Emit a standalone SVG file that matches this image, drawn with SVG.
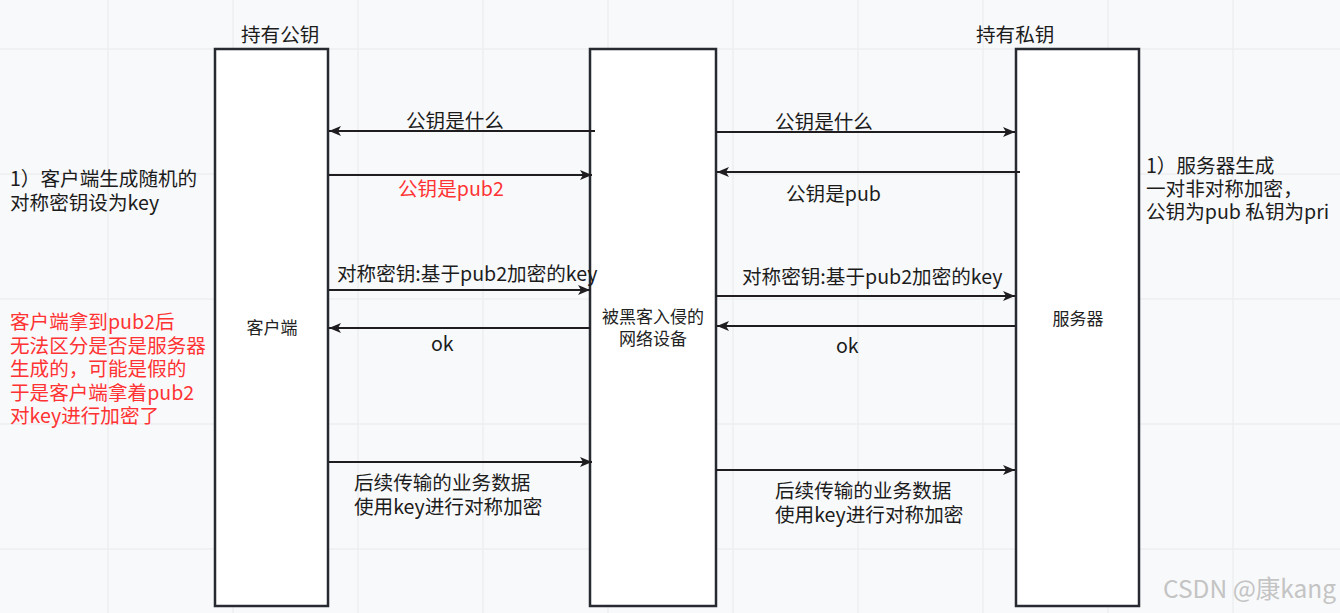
<svg xmlns="http://www.w3.org/2000/svg" width="1340" height="613" viewBox="0 0 1340 613">
<style>
text{font-family:"Noto Sans CJK SC","Noto Sans",sans-serif;fill:#1c1c1c}
.t{font-size:19.6px}
.b{font-size:17px;text-anchor:middle;fill:#222}
.r{fill:#ff3333}
.box{fill:#fff;stroke:#272a30;stroke-width:2.5}
.ln{stroke:#1f1d1f;stroke-width:2;fill:none;marker-end:url(#ah)}
.g{stroke:#eceef1;stroke-width:1.5}
</style>
<defs>
<marker id="ah" markerUnits="userSpaceOnUse" markerWidth="14" markerHeight="12" refX="12" refY="5" orient="auto" viewBox="0 0 14 12">
<path d="M0,0 L12,5 L0,10 L3,5 z" fill="#1f1d1f"/>
</marker>
</defs>
<rect width="1340" height="613" fill="#f8f9fb"/>
<g id="grid">
<line class="g" x1="108" y1="0" x2="108" y2="613"/>
<line class="g" x1="233" y1="0" x2="233" y2="613"/>
<line class="g" x1="358" y1="0" x2="358" y2="613"/>
<line class="g" x1="483" y1="0" x2="483" y2="613"/>
<line class="g" x1="608" y1="0" x2="608" y2="613"/>
<line class="g" x1="733" y1="0" x2="733" y2="613"/>
<line class="g" x1="858" y1="0" x2="858" y2="613"/>
<line class="g" x1="983" y1="0" x2="983" y2="613"/>
<line class="g" x1="1108" y1="0" x2="1108" y2="613"/>
<line class="g" x1="1233" y1="0" x2="1233" y2="613"/>
<line class="g" x1="0" y1="49" x2="1340" y2="49"/>
<line class="g" x1="0" y1="174" x2="1340" y2="174"/>
<line class="g" x1="0" y1="299" x2="1340" y2="299"/>
<line class="g" x1="0" y1="424" x2="1340" y2="424"/>
<line class="g" x1="0" y1="549" x2="1340" y2="549"/>
</g>
<g id="client">
<rect class="box" x="215" y="49" width="113" height="557"/>
<text class="b" x="272" y="334">客户端</text>
</g>
<g id="proxy">
<rect class="box" x="590" y="49" width="126" height="557"/>
<text class="b" x="653" y="323">被黑客入侵的</text>
<text class="b" x="653" y="345">网络设备</text>
</g>
<g id="server">
<rect class="box" x="1016" y="49" width="123" height="557"/>
<text class="b" x="1078" y="325">服务器</text>
</g>
<g id="connectors">
<line class="ln" x1="595" y1="131" x2="329" y2="131"/>
<line class="ln" x1="716" y1="132" x2="1015" y2="132"/>
<line class="ln" x1="329" y1="175" x2="592" y2="175"/>
<line class="ln" x1="1020" y1="172" x2="717" y2="172"/>
<line class="ln" x1="329" y1="290" x2="590" y2="290"/>
<line class="ln" x1="716" y1="296" x2="1015" y2="296"/>
<line class="ln" x1="590" y1="328" x2="329" y2="328"/>
<line class="ln" x1="1015" y1="326" x2="717" y2="326"/>
<line class="ln" x1="329" y1="462" x2="592" y2="462"/>
<line class="ln" x1="716" y1="470" x2="1015" y2="470"/>
</g>
<g id="labels">
<text class="t" x="241" y="42">持有公钥</text>
<text class="t" x="976" y="42">持有私钥</text>
<text class="t" x="406" y="128">公钥是什么</text>
<text class="t" x="775" y="129">公钥是什么</text>
<text class="t r" x="398" y="196">公钥是pub2</text>
<text class="t" x="786" y="201">公钥是pub</text>
<text class="t" x="337" y="281">对称密钥:基于pub2加密的key</text>
<text class="t" x="742" y="284">对称密钥:基于pub2加密的key</text>
<text class="t" x="431" y="351">ok</text>
<text class="t" x="836" y="353">ok</text>
<text class="t" x="354" y="490">后续传输的业务数据</text>
<text class="t" x="354" y="514">使用key进行对称加密</text>
<text class="t" x="775" y="498">后续传输的业务数据</text>
<text class="t" x="775" y="522">使用key进行对称加密</text>
<text class="t" x="10" y="186">1）客户端生成随机的</text>
<text class="t" x="10" y="210">对称密钥设为key</text>
<text class="t r" x="10" y="329">客户端拿到pub2后</text>
<text class="t r" x="10" y="353">无法区分是否是服务器</text>
<text class="t r" x="10" y="376">生成的，可能是假的</text>
<text class="t r" x="10" y="400">于是客户端拿着pub2</text>
<text class="t r" x="10" y="423">对key进行加密了</text>
<text class="t" x="1146" y="173">1）服务器生成</text>
<text class="t" x="1146" y="196">一对非对称加密，</text>
<text class="t" x="1146" y="219">公钥为pub 私钥为pri</text>
<text x="1163" y="598" style="font-size:24.5px;fill:#c4c4c4">CSDN @康kang</text>
</g>
</svg>
